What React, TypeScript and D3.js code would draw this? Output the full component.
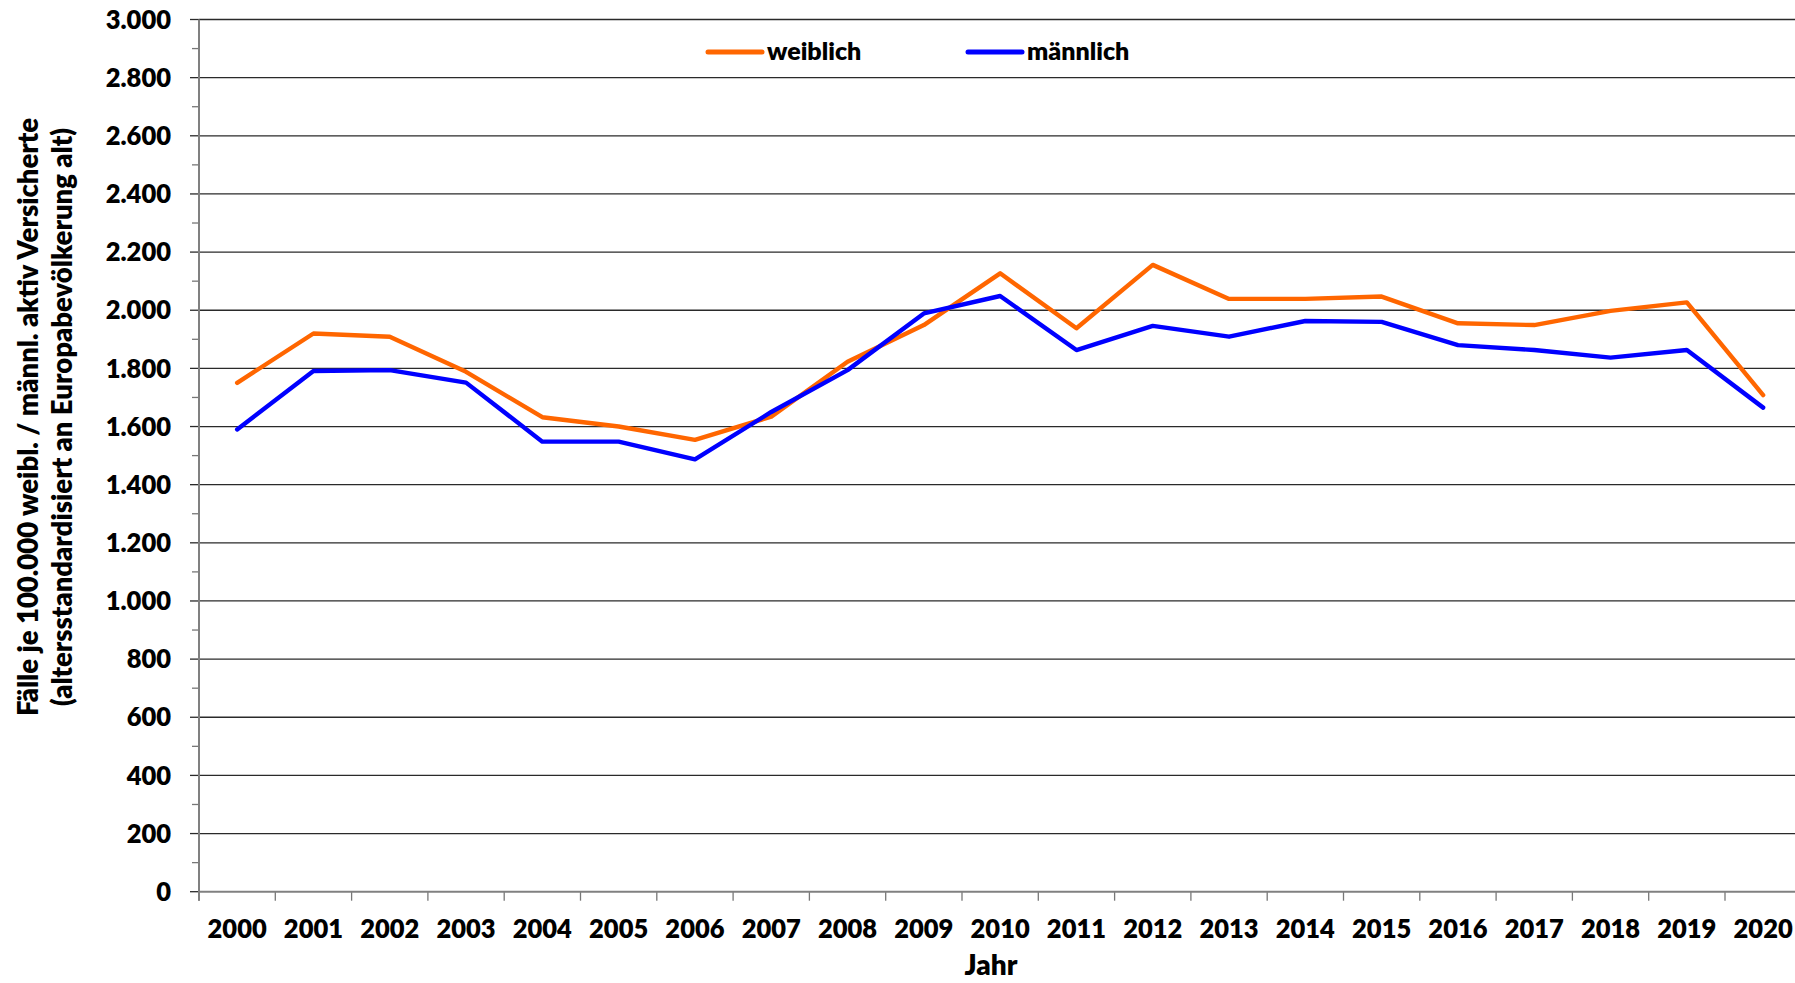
import React from "react";
import * as d3 from "d3";

const years = [2000, 2001, 2002, 2003, 2004, 2005, 2006, 2007, 2008, 2009, 2010, 2011, 2012, 2013, 2014, 2015, 2016, 2017, 2018, 2019, 2020];
const weiblich = [1750, 1920, 1909, 1788, 1632, 1600, 1554, 1634, 1823, 1949, 2127, 1938, 2156, 2039, 2039, 2047, 1955, 1949, 1998, 2027, 1708];
const maennlich = [1590, 1791, 1794, 1751, 1548, 1548, 1487, 1650, 1794, 1989, 2049, 1863, 1946, 1909, 1963, 1960, 1880, 1863, 1837, 1863, 1665];
const yMajorTicks = d3.range(0, 3001, 200);
const yMinorTicks = d3.range(100, 3000, 200);
const seriesNames = ["weiblich", "männlich"];
const seriesColors = ["#FF6600", "#0000FF"];
const yTitle1 = "Fälle je 100.000 weibl. / männl. aktiv Versicherte";
const yTitle2 = "(altersstandardisiert an Europabevölkerung alt)";
const xTitle = "Jahr";

const W = 1795;
const H = 983;
const FONT = "Lato, 'Open Sans', sans-serif";
const WEIGHT = 800;

const deLocale = d3.formatLocale({ decimal: ",", thousands: ".", grouping: [3], currency: ["", " €"] });
const fmt = deLocale.format(",d");

export default function App() {
  const left = 199;
  const step = 76.3;
  const right = left + step * years.length;
  const x = d3.scaleBand<number>().domain(years).range([left, right]).paddingInner(0).paddingOuter(0);
  const y = d3.scaleLinear().domain([0, 3000]).range([891.7, 19.5]);
  const cx = (yr: number) => (x(yr) as number) + x.bandwidth() / 2;

  const line = d3.line<number>().x((_, i) => cx(years[i])).y((v) => y(v));
  const series = [weiblich, maennlich];

  return (
    <svg width={W} height={H} style={{ position: "absolute", left: 0, top: 0, background: "#fff" }} fontFamily={FONT}>
      <rect x={0} y={0} width={W} height={H} fill="#fff" />
      {yMajorTicks.filter((t) => t > 0).map((t) => (
        <line key={"g" + t} x1={left} x2={right} y1={y(t)} y2={y(t)} stroke="#2a2a2a" strokeWidth={1.3} />
      ))}
      {yMinorTicks.map((t) => (
        <line key={"m" + t} x1={192} x2={left} y1={y(t)} y2={y(t)} stroke="#777" strokeWidth={1.3} />
      ))}
      {yMajorTicks.map((t) => (
        <line key={"M" + t} x1={190} x2={left} y1={y(t)} y2={y(t)} stroke="#2a2a2a" strokeWidth={1.3} />
      ))}
      {years.map((yr) => (
        <line key={"xt" + yr} x1={x(yr) as number} x2={x(yr) as number} y1={y(0)} y2={y(0) + 9} stroke="#777" strokeWidth={1.3} />
      ))}
      <line x1={right} x2={right} y1={y(0)} y2={y(0) + 9} stroke="#777" strokeWidth={1.3} />
      <line x1={left} x2={right} y1={y(0)} y2={y(0)} stroke="#808080" strokeWidth={2} />
      <line x1={left} x2={left} y1={y(3000)} y2={y(0) + 9} stroke="#808080" strokeWidth={2} />
      {yMajorTicks.map((t) => (
        <text key={"yl" + t} x={171} y={y(t)} dy="0.36em" textAnchor="end" fontSize={25.5} fontWeight={WEIGHT} fill="#000">
          {fmt(t)}
        </text>
      ))}
      {years.map((yr) => (
        <text key={"xl" + yr} x={cx(yr)} y={938} textAnchor="middle" fontSize={25.5} fontWeight={WEIGHT} fill="#000">
          {yr}
        </text>
      ))}
      {series.map((s, i) => (
        <path key={"s" + i} d={line(s) as string} fill="none" stroke={seriesColors[i]} strokeWidth={4.4} strokeLinejoin="round" strokeLinecap="round" />
      ))}
      {seriesNames.map((n, i) => {
        const lx = i === 0 ? 708 : 968;
        return (
          <g key={"lg" + i}>
            <line x1={lx} x2={lx + 54} y1={52} y2={52} stroke={seriesColors[i]} strokeWidth={5} strokeLinecap="round" />
            <text x={lx + 59} y={60} fontSize={25} fontWeight={WEIGHT} fill="#000">{n}</text>
          </g>
        );
      })}
      <text transform="translate(38,417) rotate(-90)" textAnchor="middle" fontSize={27.5} fontWeight={WEIGHT} fill="#000">{yTitle1}</text>
      <text transform="translate(72,417) rotate(-90)" textAnchor="middle" fontSize={27.5} fontWeight={WEIGHT} fill="#000">{yTitle2}</text>
      <text x={991} y={975} textAnchor="middle" fontSize={28} fontWeight={WEIGHT} fill="#000">{xTitle}</text>
    </svg>
  );
}
